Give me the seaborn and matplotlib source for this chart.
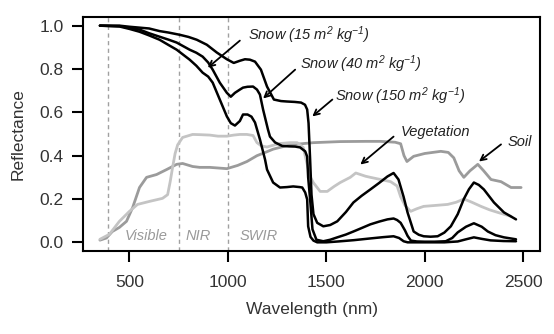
import matplotlib
matplotlib.use("Agg")
import matplotlib.pyplot as plt
import seaborn as sns

# Spectral reflectance of snow (three specific surface areas), vegetation and soil
snow150_wl = [350, 450, 500, 600, 653, 700, 755, 800, 842, 893, 944, 995, 1030, 1061, 1087,
              1112, 1138, 1168, 1199, 1234, 1270, 1300, 1340, 1372, 1392, 1403, 1410, 1418,
              1425, 1435, 1454, 1485, 1520, 1556, 1600, 1638, 1680, 1724, 1770, 1811, 1842,
              1867, 1893, 1913, 1944, 1970, 1995, 2030, 2066, 2100, 2133, 2168, 2199, 2225,
              2250, 2275, 2301, 2352, 2403, 2464]
snow150_r = [1.0, 1.0, 0.995, 0.987, 0.975, 0.968, 0.958, 0.948, 0.935, 0.912, 0.876, 0.845,
             0.828, 0.838, 0.845, 0.843, 0.834, 0.797, 0.719, 0.659, 0.652, 0.650, 0.648,
             0.645, 0.635, 0.613, 0.55, 0.382, 0.22, 0.13, 0.09, 0.074, 0.080, 0.097, 0.14,
             0.184, 0.215, 0.244, 0.275, 0.304, 0.320, 0.290, 0.21, 0.138, 0.05, 0.035, 0.028,
             0.026, 0.028, 0.045, 0.074, 0.13, 0.2, 0.245, 0.276, 0.265, 0.244, 0.184, 0.138,
             0.106]

snow40_wl = [350, 450, 500, 551, 600, 653, 700, 740, 806, 840, 872, 900, 923, 959, 995, 1015,
             1036, 1061, 1077, 1100, 1128, 1148, 1163, 1179, 1204, 1214, 1240, 1276, 1310,
             1342, 1367, 1393, 1403, 1408, 1418, 1430, 1450, 1485, 1520, 1556, 1600, 1638,
             1680, 1724, 1770, 1811, 1842, 1860, 1878, 1900, 1913, 1930, 1960, 2000, 2050,
             2107, 2140, 2168, 2210, 2250, 2290, 2321, 2360, 2403, 2464]
snow40_r = [1.0, 0.998, 0.99, 0.982, 0.965, 0.949, 0.935, 0.922, 0.889, 0.875, 0.857, 0.83,
            0.797, 0.737, 0.69, 0.672, 0.69, 0.705, 0.714, 0.718, 0.719, 0.705, 0.682, 0.613,
            0.52, 0.488, 0.461, 0.445, 0.443, 0.442, 0.438, 0.42, 0.396, 0.30, 0.198, 0.06,
            0.012, 0.005, 0.012, 0.023, 0.036, 0.05, 0.066, 0.083, 0.096, 0.106, 0.11, 0.103,
            0.09, 0.055, 0.03, 0.008, 0.004, 0.003, 0.003, 0.005, 0.02, 0.046, 0.072, 0.088,
            0.072, 0.05, 0.033, 0.023, 0.014]

snow15_wl = [350, 450, 500, 551, 600, 653, 700, 740, 806, 840, 872, 900, 923, 959, 995, 1015,
             1036, 1061, 1077, 1100, 1120, 1138, 1163, 1189, 1199, 1230, 1265, 1300, 1332,
             1365, 1378, 1393, 1403, 1408, 1420, 1435, 1454, 1500, 1560, 1640, 1724, 1790,
             1842, 1870, 1893, 1913, 2000, 2100, 2168, 2210, 2250, 2290, 2335, 2400, 2464]
snow15_r = [1.0, 0.996, 0.985, 0.972, 0.955, 0.935, 0.91, 0.889, 0.843, 0.815, 0.783, 0.765,
            0.737, 0.659, 0.581, 0.55, 0.539, 0.56, 0.59, 0.59, 0.58, 0.553, 0.475, 0.382,
            0.336, 0.276, 0.253, 0.255, 0.258, 0.255, 0.253, 0.23, 0.198, 0.074, 0.025, 0.008,
            0.0, 0.0, 0.004, 0.01, 0.018, 0.024, 0.028, 0.02, 0.005, 0.0, 0.0, 0.0, 0.004,
            0.014, 0.023, 0.016, 0.009, 0.006, 0.005]

veg_wl = [350, 398, 449, 500, 541, 602, 668, 694, 707, 719, 732, 745, 770, 821, 857, 908, 950,
          995, 1030, 1061, 1097, 1128, 1148, 1170, 1199, 1230, 1265, 1316, 1352, 1383, 1403,
          1420, 1434, 1469, 1505, 1540, 1571, 1622, 1650, 1700, 1724, 1776, 1827, 1860, 1878,
          1900, 1929, 1960, 1995, 2050, 2117, 2160, 2199, 2240, 2286, 2330, 2372, 2439]
veg_r = [0.014, 0.037, 0.097, 0.143, 0.175, 0.189, 0.203, 0.22, 0.28, 0.345, 0.41, 0.45,
         0.484, 0.498, 0.497, 0.495, 0.49, 0.49, 0.495, 0.498, 0.498, 0.493, 0.46, 0.445,
         0.44, 0.448, 0.456, 0.46, 0.46, 0.438, 0.36, 0.30, 0.276, 0.235, 0.235, 0.258,
         0.276, 0.30, 0.32, 0.305, 0.30, 0.29, 0.28, 0.26, 0.21, 0.17, 0.143, 0.155, 0.166,
         0.17, 0.175, 0.185, 0.2, 0.185, 0.166, 0.15, 0.138, 0.12]

soil_wl = [350, 383, 413, 449, 485, 516, 551, 587, 638, 689, 740, 770, 821, 857, 908, 995,
           1050, 1097, 1148, 1190, 1230, 1316, 1434, 1571, 1700, 1776, 1850, 1878, 1895, 1910,
           1944, 2000, 2082, 2120, 2148, 2175, 2199, 2230, 2270, 2300, 2337, 2388, 2439, 2490]
soil_r = [0.01, 0.02, 0.05, 0.069, 0.097, 0.16, 0.253, 0.30, 0.313, 0.336, 0.36, 0.364, 0.35,
          0.346, 0.346, 0.34, 0.355, 0.373, 0.40, 0.415, 0.43, 0.45, 0.46, 0.465, 0.466,
          0.466, 0.462, 0.455, 0.40, 0.373, 0.397, 0.41, 0.42, 0.415, 0.39, 0.33, 0.30, 0.33,
          0.36, 0.33, 0.29, 0.28, 0.253, 0.253]

region_edges = [390, 750, 1000]
region_names = ["Visible", "NIR", "SWIR"]
region_label_x = [475, 786, 1061]

x_ticks = [500, 1000, 1500, 2000, 2500]
y_ticks = [0.0, 0.2, 0.4, 0.6, 0.8, 1.0]

sns.set_theme(style="ticks")
plt.rcParams["font.family"] = ["Liberation Sans", "DejaVu Sans"]
plt.rcParams["mathtext.default"] = "regular"

fig = plt.figure(figsize=(5.54, 3.34), dpi=100)
ax = fig.add_axes([83 / 554, 1 - 251 / 334, 457 / 554, 234 / 334])

for edge in region_edges:
    ax.axvline(edge, color="#a0a0a0", lw=1.0, ls=(0, (3, 2.5)), zorder=1)

for name, lx in zip(region_names, region_label_x):
    ax.text(lx, 0.028, name, fontsize=10.5, style="italic", color="#9a9a9a",
            ha="left", va="center")

sns.lineplot(x=soil_wl, y=soil_r, ax=ax, color="#9b9b9b", lw=2.0, estimator=None, zorder=2)
sns.lineplot(x=veg_wl, y=veg_r, ax=ax, color="#c4c4c4", lw=2.0, estimator=None, zorder=2)
for wl, r in [(snow15_wl, snow15_r), (snow40_wl, snow40_r), (snow150_wl, snow150_r)]:
    sns.lineplot(x=wl, y=r, ax=ax, color="black", lw=1.8, estimator=None, zorder=3)

arrow = dict(arrowstyle="->", color="black", lw=1.3, shrinkA=0, shrinkB=0,
             mutation_scale=10)
labels = [
    (r"Snow (15 m$^2$ kg$^{-1}$)", (1102, 0.954), (1061, 0.931), (898, 0.806)),
    (r"Snow (40 m$^2$ kg$^{-1}$)", (1367, 0.82), (1342, 0.797), (1179, 0.664)),
    (r"Snow (150 m$^2$ kg$^{-1}$)", (1546, 0.673), (1531, 0.659), (1429, 0.581)),
    ("Vegetation", (1878, 0.507), (1842, 0.488), (1673, 0.359)),
    ("Soil", (2423, 0.461), (2388, 0.452), (2276, 0.373)),
]
for text, tpos, tail, head in labels:
    ax.text(tpos[0], tpos[1], text, fontsize=10.5, style="italic", ha="left",
            va="center", color="#222222")
    ax.annotate("", xy=head, xytext=tail, arrowprops=arrow)

ax.set_xlim(264, 2586)
ax.set_ylim(-0.04, 1.04)
ax.set_xticks(x_ticks)
ax.set_yticks(y_ticks)
ax.set_xticklabels([str(t) for t in x_ticks])
ax.set_yticklabels([f"{t:.1f}" for t in y_ticks])
ax.tick_params(axis="both", direction="out", length=8, width=1.5, labelsize=12.5,
               color="black", labelcolor="#333333")
ax.tick_params(axis="x", pad=9)
ax.tick_params(axis="y", pad=6)
for sp in ax.spines.values():
    sp.set_visible(True)
    sp.set_color("black")
    sp.set_linewidth(1.5)

ax.set_xlabel("Wavelength (nm)", fontsize=12.5, color="#333333", labelpad=9)
ax.set_ylabel("Reflectance", fontsize=12.5, color="#333333", labelpad=10)

fig.savefig("out.png", dpi=100, facecolor="white")
